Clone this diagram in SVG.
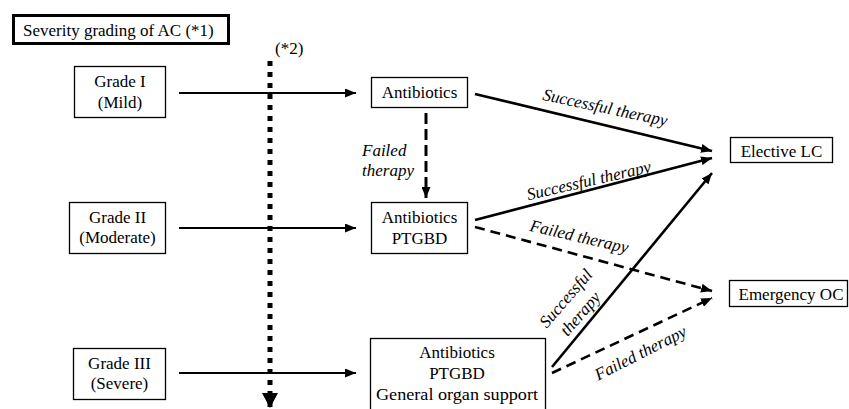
<svg xmlns="http://www.w3.org/2000/svg" width="849" height="409" viewBox="0 0 849 409">
<defs>
<marker id="ah" markerUnits="userSpaceOnUse" markerWidth="11" markerHeight="9" refX="11" refY="4.5" orient="auto"><path d="M0,0 L11,4.5 L0,9 z" fill="#000"/></marker>
<marker id="ahBig" markerUnits="userSpaceOnUse" markerWidth="15" markerHeight="16" refX="15" refY="8" orient="auto"><path d="M0,0 L15,8 L0,16 z" fill="#000"/></marker>
<style>
.box{fill:#fff;stroke:#000;stroke-width:1.3}
.t{font-family:"Liberation Serif","Times New Roman",serif;font-size:17px;fill:#000;text-anchor:middle}
.it{font-family:"Liberation Serif","Times New Roman",serif;font-size:17px;font-style:italic;fill:#000;text-anchor:middle}
.h{stroke:#000;stroke-width:2;fill:none;marker-end:url(#ah)}
.s{stroke:#000;stroke-width:2.6;fill:none;marker-end:url(#ah)}
.d{stroke:#000;stroke-width:2.6;fill:none;stroke-dasharray:10 6;marker-end:url(#ah)}
</style>
</defs>
<g id="title">
<rect x="13.5" y="15.5" width="215" height="28" fill="#fff" stroke="#000" stroke-width="3"/>
<text class="t" x="23" y="36" style="text-anchor:start">Severity grading of AC (*1)</text>
</g>
<g id="note2"><text class="t" x="275" y="54" style="text-anchor:start">(*2)</text></g>
<g id="connectors">
<line x1="270" y1="61" x2="270" y2="408" stroke="#000" stroke-width="5" stroke-dasharray="5 6" marker-end="url(#ahBig)"/>
<line class="h" x1="179" y1="93" x2="356" y2="93"/>
<line class="h" x1="179" y1="228" x2="356" y2="228"/>
<line class="h" x1="179" y1="373" x2="356" y2="373"/>
<line class="d" x1="426" y1="113" x2="426" y2="198" style="stroke-width:3;stroke-dasharray:11 5"/>
<line class="s" x1="475" y1="94" x2="712" y2="151"/>
<line class="s" x1="475" y1="220" x2="712" y2="158"/>
<line class="s" x1="552" y1="367" x2="712" y2="173"/>
<line class="d" x1="475" y1="227" x2="712" y2="291"/>
<line class="d" x1="552" y1="373" x2="712" y2="298"/>
</g>
<g id="labels">
<text class="it" x="362" y="156" style="text-anchor:start">Failed</text>
<text class="it" x="362" y="176" style="text-anchor:start">therapy</text>
<text class="it" transform="translate(604,113) rotate(12)">Successful therapy</text>
<text class="it" transform="translate(590,186) rotate(-13)">Successful therapy</text>
<text class="it" transform="translate(578,242) rotate(13)">Failed therapy</text>
<g transform="translate(570,302) rotate(-49)">
<text class="it" x="0" y="0">Successful</text>
<text class="it" x="-2" y="21">therapy</text>
</g>
<text class="it" transform="translate(643,358) rotate(-27)">Failed therapy</text>
</g>
<g id="grade1"><rect class="box" x="74.5" y="66.5" width="91" height="51"/><text class="t" x="120" y="87">Grade I</text><text class="t" x="120" y="108">(Mild)</text></g>
<g id="grade2"><rect class="box" x="69.5" y="202.5" width="96" height="51"/><text class="t" x="117.5" y="223">Grade II</text><text class="t" x="117.5" y="243">(Moderate)</text></g>
<g id="grade3"><rect class="box" x="73.5" y="348.5" width="92" height="51"/><text class="t" x="119.5" y="369">Grade III</text><text class="t" x="119.5" y="389">(Severe)</text></g>
<g id="treat1"><rect class="box" x="371.5" y="77.5" width="96" height="30"/><text class="t" x="419.5" y="98">Antibiotics</text></g>
<g id="treat2"><rect class="box" x="371.5" y="202.5" width="96" height="51"/><text class="t" x="419.5" y="223">Antibiotics</text><text class="t" x="419.5" y="244">PTGBD</text></g>
<g id="treat3"><rect class="box" x="370.5" y="338.5" width="175" height="75"/><text class="t" x="457" y="358">Antibiotics</text><text class="t" x="457" y="379">PTGBD</text><text class="t" x="457" y="400" textLength="162" lengthAdjust="spacingAndGlyphs">General organ support</text></g>
<g id="electiveLC"><rect class="box" x="730.5" y="137.5" width="102" height="25"/><text class="t" x="781.5" y="157">Elective LC</text></g>
<g id="emergencyOC"><rect class="box" x="729.5" y="280.5" width="118" height="26"/><text class="t" x="791" y="300">Emergency OC</text></g>
</svg>
